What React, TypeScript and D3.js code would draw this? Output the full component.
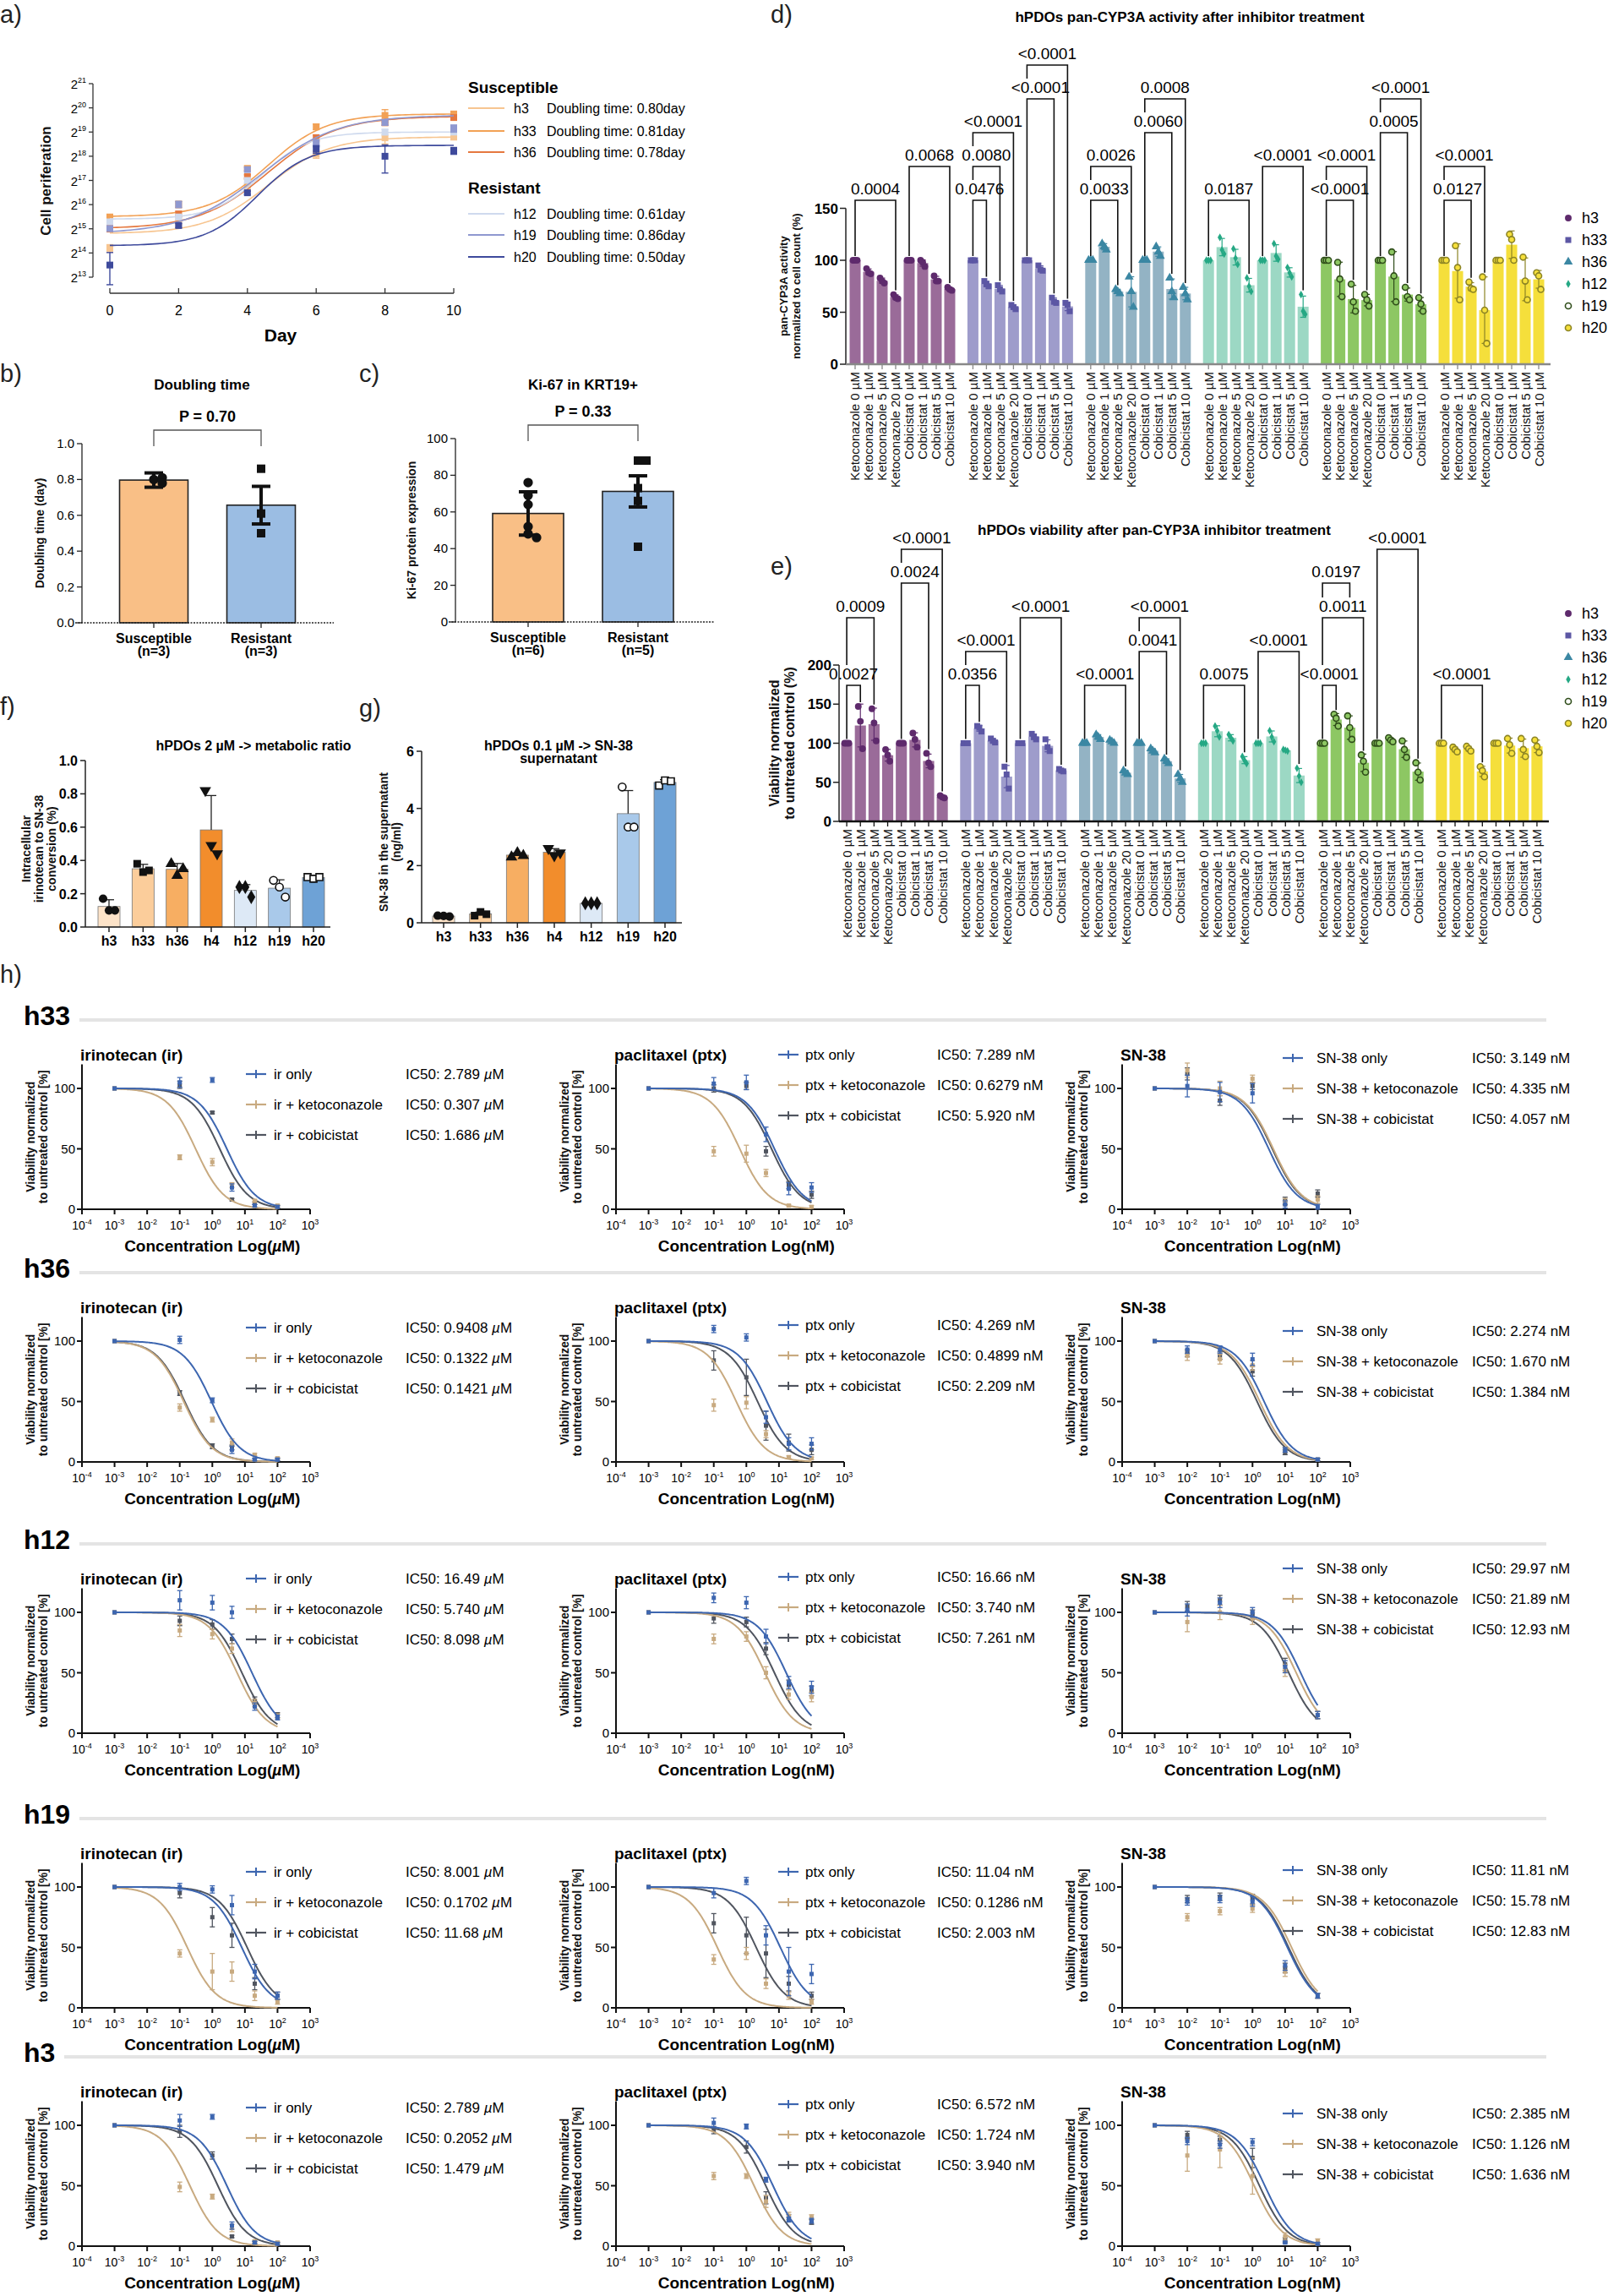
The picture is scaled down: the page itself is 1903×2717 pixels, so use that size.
import React, { useEffect } from "react";
import * as d3 from "d3";

const NARROW = "'Liberation Sans Narrow','Arial Narrow','Liberation Sans',Arial,sans-serif";
const ARIAL = "'Liberation Sans',Arial,Helvetica,sans-serif";

/* ================= DATA ================= */
/* a) growth curves (cells, thousands) */
const growthDays = [0, 2, 4, 6, 8, 10];
const growthLines = ["h3", "h33", "h36", "h12", "h19", "h20"];
const growthDoubling = ["0.80", "0.81", "0.78", "0.61", "0.86", "0.50"];
const growthH3 = [18.8, 39.5, 109, 277, 444, 453];
const growthH33 = [46, 66, 185, 610, 845, 880];
const growthH36 = [33, 50, 146, 444, 691, 794];
const growthH12 = [40, 46, 131, 370, 524, 524];
const growthH19 = [33, 66, 179, 383, 691, 582];
const growthH20 = [11.6, 36, 92, 320, 262, 307];
const growthSdH3 = [2, 4, 10, 30, 70, 20];
const growthSdH33 = [3, 6, 12, 50, 150, 20];
const growthSdH36 = [3, 4, 8, 40, 60, 30];
const growthSdH12 = [2, 3, 8, 20, 40, 30];
const growthSdH19 = [2, 6, 10, 40, 50, 60];
const growthSdH20 = [5, 2, 4, 35, 100, 30];
/* logistic fit in log2(cells): bottom, top, midpoint (day), scale (day) */
const growthFitBottom = [14.8, 15.5, 15.0, 15.4, 14.8, 14.3];
const growthFitTop = [18.8, 19.75, 19.65, 19.0, 19.7, 18.45];
const growthFitMid = [4.6, 4.6, 4.6, 4.4, 4.4, 4.3];
const growthFitScale = [0.9, 0.85, 1.0, 0.7, 1.1, 0.75];

/* b) doubling time */
const dtGroups = ["Susceptible", "Resistant"];
const dtN = ["(n=3)", "(n=3)"];
const dtPoints = [[0.80, 0.81, 0.78], [0.86, 0.61, 0.50]];
const dtErr = [0.04, 0.105];
const dtP = "P = 0.70";

/* c) Ki-67 */
const kiGroups = ["Susceptible", "Resistant"];
const kiN = ["(n=6)", "(n=5)"];
const kiPoints = [[76, 69, 64, 52, 48, 46], [88, 88, 73, 66, 41]];
const kiErr = [11.8, 8.5];
const kiP = "P = 0.33";

/* f, g) */
const fgLines = ["h3", "h33", "h36", "h4", "h12", "h19", "h20"];
const metRatioPts = [[0.17, 0.10, 0.10], [0.38, 0.33, 0.34], [0.38, 0.31, 0.35], [0.82, 0.49, 0.44], [0.24, 0.24, 0.18], [0.28, 0.24, 0.18], [0.30, 0.29, 0.30]];
const sn38SupPts = [[0.25, 0.24, 0.22], [0.25, 0.38, 0.30], [2.3, 2.45, 2.35], [2.6, 2.35, 2.45], [0.68, 0.68, 0.68], [4.75, 3.35, 3.35], [4.8, 4.98, 4.95]];

/* d, e) */
const cypOrganoids = ["h3", "h33", "h36", "h12", "h19", "h20"];
const cypTreatments = ["Ketoconazole 0 µM", "Ketoconazole 1 µM", "Ketoconazole 5 µM", "Ketoconazole 20 µM", "Cobicistat 0 µM", "Cobicistat 1 µM", "Cobicistat 5 µM", "Cobicistat 10 µM"];
const cypH3 = [[100, 100, 100], [92, 88, 87], [83, 80, 78], [67, 64, 63], [100, 100, 100], [100, 98, 94], [85, 80, 80], [74, 72, 71]];
const cypH33 = [[100, 100, 100], [80, 77, 75], [76, 72, 70], [57, 55, 53], [100, 100, 100], [95, 91, 90], [64, 60, 59], [59, 57, 51]];
const cypH36 = [[100, 100, 100], [116, 113, 110], [72, 70, 68], [84, 70, 55], [100, 100, 100], [113, 108, 104], [83, 70, 64], [74, 68, 62]];
const cypH12 = [[100, 100, 100], [122, 110, 106], [111, 102, 96], [83, 75, 70], [100, 100, 100], [116, 104, 101], [93, 88, 84], [67, 51, 48]];
const cypH19 = [[100, 100, 100], [98, 82, 65], [77, 60, 51], [67, 62, 56], [100, 100, 100], [108, 85, 60], [74, 65, 62], [64, 58, 51]];
const cypH20 = [[100, 100, 100], [114, 93, 62], [79, 73, 72], [84, 52, 20], [100, 100, 100], [125, 120, 100], [103, 80, 62], [88, 85, 72]];
/* [organoid, bar A, bar B, p-value, tier] */
const cypBrackets = [
  [0, 0, 3, "0.0004", 0], [0, 4, 7, "0.0068", 1],
  [1, 0, 1, "0.0476", 0], [1, 0, 2, "0.0080", 1], [1, 0, 3, "<0.0001", 2], [1, 4, 6, "<0.0001", 3], [1, 4, 7, "<0.0001", 4],
  [2, 0, 2, "0.0033", 0], [2, 0, 3, "0.0026", 1], [2, 4, 6, "0.0060", 2], [2, 4, 7, "0.0008", 3],
  [3, 0, 3, "0.0187", 0], [3, 4, 7, "<0.0001", 1],
  [4, 0, 2, "<0.0001", 0], [4, 0, 3, "<0.0001", 1], [4, 4, 6, "0.0005", 2], [4, 4, 7, "<0.0001", 3],
  [5, 0, 2, "0.0127", 0], [5, 0, 3, "<0.0001", 1],
];
const viabH3 = [[100, 100, 100], [147, 128, 93], [144, 126, 103], [92, 85, 77], [100, 100, 100], [113, 105, 95], [87, 75, 70], [33, 31, 30]];
const viabH33 = [[100, 100, 100], [122, 120, 115], [106, 103, 101], [70, 60, 42], [100, 100, 100], [112, 108, 105], [105, 95, 90], [67, 65, 64]];
const viabH36 = [[100, 100, 100], [111, 108, 105], [104, 102, 100], [65, 62, 60], [100, 100, 100], [93, 90, 88], [80, 77, 74], [60, 55, 50]];
const viabH12 = [[100, 100, 100], [122, 116, 108], [111, 107, 103], [83, 78, 74], [100, 100, 100], [116, 108, 102], [92, 91, 90], [68, 58, 50]];
const viabH19 = [[100, 100, 100], [137, 132, 122], [135, 120, 105], [85, 77, 63], [100, 100, 100], [107, 104, 102], [103, 92, 82], [75, 63, 53]];
const viabH20 = [[100, 100, 100], [95, 92, 89], [96, 93, 90], [70, 65, 57], [100, 100, 100], [106, 98, 87], [106, 92, 83], [104, 96, 88]];
const viabBrackets = [
  [0, 0, 1, "0.0027", 0], [0, 0, 2, "0.0009", 2], [0, 4, 6, "0.0024", 3], [0, 4, 7, "<0.0001", 4],
  [1, 0, 1, "0.0356", 0], [1, 0, 3, "<0.0001", 1], [1, 4, 7, "<0.0001", 2],
  [2, 0, 3, "<0.0001", 0], [2, 4, 6, "0.0041", 1], [2, 4, 7, "<0.0001", 2],
  [3, 0, 3, "0.0075", 0], [3, 4, 7, "<0.0001", 1],
  [4, 0, 1, "<0.0001", 0], [4, 0, 3, "0.0011", 2], [4, 0, 2, "0.0197", 3], [4, 4, 7, "<0.0001", 4],
  [5, 0, 3, "<0.0001", 0],
];

/* h) dose response */
const doseRows = ["h33", "h36", "h12", "h19", "h3"];
const doseDrugs = ["irinotecan (ir)", "paclitaxel (ptx)", "SN-38"];
const doseShort = ["ir", "ptx", "SN-38"];
const doseUnit = ["µM", "nM", "nM"];
const doseSeries = [" only", " + ketoconazole", " + cobicistat"];
const concIrPtx = [0.001, 0.1, 1, 4, 20, 100];
const concSn38 = [0.001, 0.01, 0.1, 1, 10, 100];
const ic50H33 = [["2.789", "0.307", "1.686"], ["7.289", "0.6279", "5.920"], ["3.149", "4.335", "4.057"]];
const ic50H36 = [["0.9408", "0.1322", "0.1421"], ["4.269", "0.4899", "2.209"], ["2.274", "1.670", "1.384"]];
const ic50H12 = [["16.49", "5.740", "8.098"], ["16.66", "3.740", "7.261"], ["29.97", "21.89", "12.93"]];
const ic50H19 = [["8.001", "0.1702", "11.68"], ["11.04", "0.1286", "2.003"], ["11.81", "15.78", "12.83"]];
const ic50H3 = [["2.789", "0.2052", "1.479"], ["6.572", "1.724", "3.940"], ["2.385", "1.126", "1.636"]];
const viaH33 = [
  [[100, 105, 107, 18, 3, 2], [100, 43, 39, 20, 7, 3], [100, 103, 80, 8, 5, 2]],
  [[100, 104, 105, 62, 17, 18], [100, 48, 46, 30, 3, 2], [100, 100, 102, 48, 20, 12]],
  [[100, 102, 97, 96, 4, 2], [100, 115, 100, 108, 6, 8], [100, 112, 90, 102, 7, 13]],
];
const sdH33 = [
  [[0, 4, 2, 3, 1, 1], [0, 2, 3, 2, 1, 1], [0, 3, 1, 1, 1, 1]],
  [[0, 5, 6, 6, 5, 4], [0, 4, 7, 3, 1, 1], [0, 3, 3, 4, 3, 3]],
  [[0, 9, 8, 8, 3, 2], [0, 6, 6, 3, 3, 3], [0, 5, 4, 3, 3, 3]],
];
const viaH36 = [
  [[100, 101, 51, 10, 2, 2], [100, 45, 35, 16, 6, 3], [100, 57, 13, 12, 2, 2]],
  [[100, 110, 103, 37, 15, 15], [100, 47, 49, 23, 4, 3], [100, 84, 70, 30, 16, 10]],
  [[100, 93, 93, 85, 10, 2], [100, 88, 85, 80, 10, 2], [100, 90, 88, 75, 8, 2]],
];
const sdH36 = [
  [[0, 3, 2, 3, 1, 1], [0, 3, 2, 3, 1, 1], [0, 2, 2, 2, 1, 1]],
  [[0, 3, 3, 5, 5, 5], [0, 5, 5, 3, 1, 1], [0, 8, 15, 12, 7, 4]],
  [[0, 3, 3, 5, 2, 1], [0, 4, 4, 4, 2, 1], [0, 3, 3, 4, 2, 1]],
];
const viaH12 = [
  [[100, 110, 108, 100, 22, 13], [100, 85, 82, 70, 25, 14], [100, 93, 90, 78, 27, 15]],
  [[100, 112, 108, 80, 42, 38], [100, 78, 80, 50, 32, 30], [100, 95, 92, 70, 40, 35]],
  [[100, 102, 108, 100, 55, 15], [100, 92, 100, 95, 52, 15], [100, 105, 110, 98, 57, 15]],
];
const sdH12 = [
  [[0, 8, 6, 5, 3, 2], [0, 5, 4, 4, 3, 2], [0, 4, 4, 4, 3, 2]],
  [[0, 4, 5, 6, 5, 5], [0, 4, 4, 5, 4, 4], [0, 4, 4, 5, 4, 4]],
  [[0, 5, 4, 4, 5, 3], [0, 8, 6, 5, 5, 3], [0, 4, 4, 4, 5, 3]],
];
const viaH19 = [
  [[100, 100, 98, 85, 30, 10], [100, 45, 30, 30, 10, 5], [100, 95, 75, 60, 20, 10]],
  [[100, 95, 105, 60, 30, 28], [100, 40, 45, 20, 10, 5], [100, 70, 60, 45, 20, 10]],
  [[100, 88, 90, 88, 35, 10], [100, 75, 80, 82, 30, 10], [100, 90, 92, 90, 33, 10]],
];
const sdH19 = [
  [[0, 3, 3, 8, 6, 3], [0, 3, 15, 8, 4, 2], [0, 4, 8, 10, 5, 3]],
  [[0, 4, 3, 8, 20, 8], [0, 4, 5, 4, 3, 2], [0, 8, 15, 20, 6, 3]],
  [[0, 3, 3, 4, 4, 2], [0, 3, 3, 3, 4, 2], [0, 3, 3, 4, 4, 2]],
];
const viaH3 = [
  [[100, 104, 107, 17, 3, 2], [100, 49, 41, 15, 4, 3], [100, 95, 75, 8, 3, 2]],
  [[100, 102, 99, 55, 22, 21], [100, 58, 58, 37, 25, 24], [100, 96, 82, 40, 23, 20]],
  [[100, 87, 84, 86, 3, 2], [100, 75, 80, 58, 8, 4], [100, 92, 88, 73, 5, 2]],
];
const sdH3 = [
  [[0, 5, 2, 3, 1, 1], [0, 4, 2, 3, 1, 1], [0, 5, 3, 1, 1, 1]],
  [[0, 4, 2, 2, 2, 2], [0, 3, 2, 5, 3, 2], [0, 3, 5, 5, 3, 2]],
  [[0, 3, 3, 3, 1, 1], [0, 13, 15, 15, 3, 2], [0, 3, 3, 8, 2, 1]],
];
const doseIc50 = [ic50H33, ic50H36, ic50H12, ic50H19, ic50H3];
const doseMeans = [viaH33, viaH36, viaH12, viaH19, viaH3];
const doseSds = [sdH33, sdH36, sdH12, sdH19, sdH3];

/* ================= STYLE / LAYOUT ================= */
const GROWTH_COLORS = ["#f7c590", "#f2a155", "#e5783f", "#cfdaee", "#8f98d0", "#3e4a9c"];
const ORG_BAR = ["#9a6b99", "#9e9ccb", "#93b3c4", "#9cd8c4", "#8dc763", "#f5df3b"];
const ORG_MARK = ["#5e2a6c", "#5c57a4", "#3b87a3", "#25a884", "#2f4d1a", "#8c8424"];
const ORG_SHAPE = ["circle", "square", "triangle", "diamond", "ocircle", "ocircle"];
const FG_BAR = ["#fde3c8", "#fbcd9b", "#f7ae62", "#f28d2c", "#dde9f6", "#a9c9ea", "#6ea2d6"];
const FG_SHAPE = ["circle", "square", "triangle", "tridown", "diamond", "ocircle", "osquare"];
const DOSE_COLORS = ["#3d66b0", "#c8aa80", "#50555f"];
const ROW_LAYOUT = [
  { base: 1213, leg: [58, 35, 39] },
  { base: 1512, leg: [59, 56, 63] },
  { base: 1833, leg: [35, 33, 23] },
  { base: 2158, leg: [57, 57, 55] },
  { base: 2440, leg: [54, 50, 61] },
];
const COL_LAYOUT = [
  { axisX: 97, legX: 291, textX: 324, icX: 480 },
  { axisX: 729, legX: 921, textX: 953, icX: 1109 },
  { axisX: 1328, legX: 1518, textX: 1558, icX: 1742 },
];

/* ================= HELPERS ================= */
function Marker({ shape, x, y, size, color, fill }: any) {
  const area = size * size;
  let type = d3.symbolCircle;
  let rot = 0;
  let hollow = false;
  if (shape === "square" || shape === "osquare") type = d3.symbolSquare;
  if (shape === "triangle") type = d3.symbolTriangle;
  if (shape === "tridown") { type = d3.symbolTriangle; rot = 180; }
  if (shape === "diamond") type = d3.symbolDiamond;
  if (shape === "ocircle" || shape === "osquare") hollow = true;
  const p = d3.symbol().type(type).size(hollow ? area * 0.8 : area)();
  return (
    <path d={p || ""} transform={`translate(${x},${y}) rotate(${rot})`}
      fill={hollow ? (fill || "#fff") : color} stroke={color} strokeWidth={hollow ? 1.6 : 0} />
  );
}

function jitter(vals: number[], tol: number, step: number) {
  const offs: number[] = [];
  vals.forEach((v, i) => {
    let c = 0;
    for (let j = 0; j < i; j++) if (Math.abs(vals[j] - v) < tol) c++;
    offs.push(c === 0 ? 0 : (c % 2 === 1 ? 1 : -1) * Math.ceil(c / 2) * step);
  });
  return offs;
}

function RotText({ x, y, children, size, weight, family, anchor }: any) {
  return (
    <text transform={`translate(${x},${y}) rotate(-90)`} textAnchor={anchor || "middle"}
      fontSize={size} fontWeight={weight || "normal"} fontFamily={family || ARIAL} fill="#111">
      {children}
    </text>
  );
}

function PanelLabel({ x, y, t }: any) {
  return <text x={x} y={y} fontSize={29} fontFamily={NARROW} fill="#222">{t}</text>;
}

/* ================= a) ================= */
function PanelA() {
  const x = d3.scaleLinear().domain([0, 10]).range([130, 537]);
  const y = d3.scaleLog().base(2).domain([2 ** 13 / 1000, 2 ** 21 / 1000]).range([328, 99]);
  const series = [growthH3, growthH33, growthH36, growthH12, growthH19, growthH20];
  const sds = [growthSdH3, growthSdH33, growthSdH36, growthSdH12, growthSdH19, growthSdH20];
  const fitDays = d3.range(0, 10.001, 0.1);
  const fit = (i: number, d: number) =>
    2 ** (growthFitBottom[i] + (growthFitTop[i] - growthFitBottom[i]) / (1 + Math.exp(-(d - growthFitMid[i]) / growthFitScale[i]))) / 1000;
  const legendY = [128, 155, 180, 253, 278, 304];
  return (
    <g>
      <PanelLabel x={0} y={27} t="a)" />
      <line x1={110} x2={110} y1={y(2 ** 21 / 1000)} y2={y(2 ** 13 / 1000)} stroke="#333" strokeWidth={1.3} />
      {d3.range(13, 22).map((k) => (
        <g key={k}>
          <line x1={105} x2={110} y1={y(2 ** k / 1000)} y2={y(2 ** k / 1000)} stroke="#333" strokeWidth={1.3} />
          <text x={102} y={y(2 ** k / 1000) + 6} textAnchor="end" fontSize={15} fontFamily={NARROW}>
            2<tspan dy={-7} fontSize={9}>{k}</tspan>
          </text>
        </g>
      ))}
      <line x1={x(0)} x2={x(10)} y1={347} y2={347} stroke="#333" strokeWidth={1.3} />
      {growthDays.map((d) => (
        <g key={d}>
          <line x1={x(d)} x2={x(d)} y1={341} y2={347} stroke="#333" strokeWidth={1.3} />
          <text x={x(d)} y={373} textAnchor="middle" fontSize={16} fontFamily={NARROW}>{d}</text>
        </g>
      ))}
      <text x={332} y={404} textAnchor="middle" fontSize={21} fontFamily={NARROW} fontWeight="bold">Day</text>
      <RotText x={60} y={214} size={17} weight="bold">Cell periferation</RotText>
      {series.map((s, i) => {
        const line = d3.line<number>().x((d) => x(d)).y((d) => y(fit(i, d)));
        return (
          <g key={i}>
            <path d={line(fitDays) || ""} fill="none" stroke={GROWTH_COLORS[i]} strokeWidth={1.6} />
            {s.map((v, j) => {
              const lo = Math.max(v - sds[i][j], 1);
              const hi = v + sds[i][j];
              const xx = x(growthDays[j]);
              return (
                <g key={j} stroke={GROWTH_COLORS[i]} strokeWidth={1.4}>
                  <line x1={xx} x2={xx} y1={y(lo)} y2={y(hi)} />
                  <line x1={xx - 4} x2={xx + 4} y1={y(lo)} y2={y(lo)} />
                  <line x1={xx - 4} x2={xx + 4} y1={y(hi)} y2={y(hi)} />
                  <rect x={xx - 4} y={y(v) - 4} width={8} height={8} fill={GROWTH_COLORS[i]} stroke="none" />
                </g>
              );
            })}
          </g>
        );
      })}
      <text x={554} y={110} fontSize={19} fontWeight="bold" fontFamily={NARROW}>Susceptible</text>
      <text x={554} y={229} fontSize={19} fontWeight="bold" fontFamily={NARROW}>Resistant</text>
      {growthLines.map((h, i) => (
        <g key={h}>
          <line x1={554} x2={597} y1={legendY[i]} y2={legendY[i]} stroke={GROWTH_COLORS[i]} strokeWidth={2} />
          <text x={608} y={legendY[i] + 6} fontSize={16} fontFamily={NARROW}>{h}</text>
          <text x={647} y={legendY[i] + 6} fontSize={16} fontFamily={NARROW}>Doubling time: {growthDoubling[i]}day</text>
        </g>
      ))}
    </g>
  );
}

/* ================= b) c) ================= */
function TwoBar({ label, lx, title, titleX, groups, ns, pts, err, p, domainMax, ticks, tickFmt, y0, yTop, axisX, axisEnd, centers, barW, yLabel, yLabelX, bracketY, legY, fills, shapes }: any) {
  const y = d3.scaleLinear().domain([0, domainMax]).range([y0, yTop]);
  const xc = d3.scalePoint().domain(groups).range(centers);
  return (
    <g>
      <PanelLabel x={lx} y={452} t={label} />
      <text x={titleX} y={461} textAnchor="middle" fontSize={17} fontWeight="bold" fontFamily={NARROW}>{title}</text>
      <line x1={axisX} x2={axisX} y1={y0} y2={yTop} stroke="#222" strokeWidth={1.3} />
      {ticks.map((t: number) => (
        <g key={t}>
          <line x1={axisX - 6} x2={axisX} y1={y(t)} y2={y(t)} stroke="#222" strokeWidth={1.3} />
          <text x={axisX - 9} y={y(t) + 5} textAnchor="end" fontSize={15} fontFamily={NARROW}>{tickFmt(t)}</text>
        </g>
      ))}
      <RotText x={yLabelX} y={(y0 + yTop) / 2} size={14} weight="bold">{yLabel}</RotText>
      {groups.map((g: string, i: number) => {
        const cx = xc(g) as number;
        const m = d3.mean(pts[i]) as number;
        const offs = jitter(pts[i], domainMax * 0.03, 10);
        return (
          <g key={g}>
            <rect x={cx - barW / 2} y={y(m)} width={barW} height={y0 - y(m)} fill={fills[i]} stroke="#222" strokeWidth={1.6} />
            <line x1={cx} x2={cx} y1={y(m - err[i])} y2={y(m + err[i])} stroke="#111" strokeWidth={4} />
            <line x1={cx - 11} x2={cx + 11} y1={y(m - err[i])} y2={y(m - err[i])} stroke="#111" strokeWidth={4} />
            <line x1={cx - 11} x2={cx + 11} y1={y(m + err[i])} y2={y(m + err[i])} stroke="#111" strokeWidth={4} />
            {pts[i].map((v: number, j: number) => (
              <Marker key={j} shape={shapes[i]} x={cx + offs[j]} y={y(v)} size={10} color="#111" />
            ))}
            <line x1={cx} x2={cx} y1={y0} y2={y0 + 6} stroke="#222" strokeWidth={1.3} />
            <text x={cx} y={y0 + 24} textAnchor="middle" fontSize={16} fontWeight="bold" fontFamily={NARROW}>{g}</text>
            <text x={cx} y={y0 + 39} textAnchor="middle" fontSize={16} fontWeight="bold" fontFamily={NARROW}>{ns[i]}</text>
          </g>
        );
      })}
      <line x1={axisX - 8} x2={axisEnd} y1={y0} y2={y0} stroke="#222" strokeWidth={1.6} strokeDasharray="2,1.5" />
      <path d={`M${centers[0]},${bracketY + 19}V${bracketY}H${centers[1]}V${bracketY + 19}`} fill="none" stroke="#555" strokeWidth={1.3} />
      <text x={(centers[0] + centers[1]) / 2} y={legY} textAnchor="middle" fontSize={18} fontWeight="bold" fontFamily={NARROW}>{p}</text>
    </g>
  );
}

/* ================= f) g) ================= */
function SmallBars({ label, lx, ly, titleLines, titleX, pts, domainMax, ticks, tickFmt, y0, yTop, axisX, range, yLabelLines, yLabelX }: any) {
  const y = d3.scaleLinear().domain([0, domainMax]).range([y0, yTop]);
  const xc = d3.scalePoint().domain(fgLines).range(range);
  const barW = 26;
  return (
    <g>
      <PanelLabel x={lx} y={ly} t={label} />
      {titleLines.map((t: string, i: number) => (
        <text key={i} x={titleX} y={888 + i * 15} textAnchor="middle" fontSize={16} fontWeight="bold" fontFamily={NARROW}>{t}</text>
      ))}
      <line x1={axisX} x2={axisX} y1={y0} y2={yTop} stroke="#222" strokeWidth={1.5} />
      {ticks.map((t: number) => (
        <g key={t}>
          <line x1={axisX - 6} x2={axisX} y1={y(t)} y2={y(t)} stroke="#222" strokeWidth={1.5} />
          <text x={axisX - 9} y={y(t) + 6} textAnchor="end" fontSize={16} fontFamily={NARROW} fontWeight="bold">{tickFmt(t)}</text>
        </g>
      ))}
      {yLabelLines.map((t: string, i: number) => (
        <RotText key={i} x={yLabelX + i * 15} y={(y0 + yTop) / 2 + 6} size={14} weight="bold">{t}</RotText>
      ))}
      {fgLines.map((g: string, i: number) => {
        const cx = xc(g) as number;
        const m = d3.mean(pts[i]) as number;
        const sd = d3.deviation(pts[i]) as number;
        const offs = [-7, 0, 7];
        return (
          <g key={g}>
            <rect x={cx - barW / 2} y={y(m)} width={barW} height={y0 - y(m)} fill={FG_BAR[i]} stroke="#777" strokeWidth={0.8} />
            <line x1={cx} x2={cx} y1={y(m)} y2={y(m + sd)} stroke="#222" strokeWidth={1.3} />
            <line x1={cx - 6} x2={cx + 6} y1={y(m + sd)} y2={y(m + sd)} stroke="#222" strokeWidth={1.3} />
            {pts[i].map((v: number, j: number) => (
              <Marker key={j} shape={FG_SHAPE[i]} x={cx + offs[j]} y={y(v)} size={9} color="#111" />
            ))}
            <line x1={cx} x2={cx} y1={y0} y2={y0 + 6} stroke="#222" strokeWidth={1.5} />
            <text x={cx} y={y0 + 22} textAnchor="middle" fontSize={16} fontFamily={NARROW} fontWeight="bold">{g}</text>
          </g>
        );
      })}
      <line x1={axisX} x2={range[1] + 20} y1={y0} y2={y0} stroke="#222" strokeWidth={1.5} />
    </g>
  );
}

/* ================= d) e) ================= */
function GroupedBars({ data, brackets, y0, yTop, vMax, ticks, groupRange, tierY, axisX, title, titleX, titleY, yLabelLines, yLabelX, yLabelSize, legendY0, axisColor, label, labelY, pSize }: any) {
  const y = d3.scaleLinear().domain([0, vMax]).range([y0, yTop]);
  const gx = d3.scaleBand<number>().domain(d3.range(6)).range(groupRange).paddingInner(0.082);
  const bx = d3.scaleBand<number>().domain(d3.range(8)).range([0, gx.bandwidth()]).paddingInner(0.1875).paddingOuter(0.09375);
  const cx = (g: number, b: number) => (gx(g) as number) + (bx(b) as number) + bx.bandwidth() / 2;
  const bw = bx.bandwidth();
  const maxAt = (g: number, b: number) => d3.max(data[g][b] as number[]) as number;
  return (
    <g>
      <PanelLabel x={912} y={labelY} t={label} />
      <text x={titleX} y={titleY} textAnchor="middle" fontSize={17} fontWeight="bold" fontFamily={NARROW}>{title}</text>
      <line x1={axisX} x2={axisX} y1={y0} y2={yTop} stroke="#222" strokeWidth={1.5} />
      {ticks.map((t: number) => (
        <g key={t}>
          <line x1={axisX - 7} x2={axisX} y1={y(t)} y2={y(t)} stroke="#222" strokeWidth={1.5} />
          <text x={axisX - 9} y={y(t) + 6} textAnchor="end" fontSize={17} fontWeight="bold" fontFamily={NARROW}>{t}</text>
        </g>
      ))}
      {yLabelLines.map((t: string, i: number) => (
        <RotText key={i} x={yLabelX + i * (yLabelSize + 2)} y={(y0 + yTop) / 2} size={yLabelSize} weight="bold">{t}</RotText>
      ))}
      {data.map((grp: number[][], g: number) => (
        <g key={g}>
          {grp.map((pts: number[], b: number) => {
            const m = d3.mean(pts) as number;
            const sd = d3.deviation(pts) as number;
            const x = cx(g, b);
            return (
              <g key={b}>
                <rect x={x - bw / 2} y={y(m)} width={bw} height={y0 - y(m)} fill={ORG_BAR[g]} />
                {sd > 0.5 && (
                  <g stroke={ORG_MARK[g]} strokeWidth={1.2}>
                    <line x1={x} x2={x} y1={y(m - sd)} y2={y(m + sd)} />
                    <line x1={x - 3.5} x2={x + 3.5} y1={y(m - sd)} y2={y(m - sd)} />
                    <line x1={x - 3.5} x2={x + 3.5} y1={y(m + sd)} y2={y(m + sd)} />
                  </g>
                )}
                {pts.map((v: number, j: number) => (
                  <Marker key={j} shape={ORG_SHAPE[g]} x={x + (j - 1) * 2.5} y={y(v)} size={ORG_SHAPE[g] === "diamond" ? 5 : 7} color={ORG_MARK[g]} fill={ORG_BAR[g]} />
                ))}
                <line x1={x} x2={x} y1={y0} y2={y0 + 6} stroke={axisColor} strokeWidth={1.3} />
                <text transform={`translate(${x + 5.5},${y0 + 9}) rotate(-90)`} textAnchor="end" fontSize={15} fontFamily={ARIAL} fill="#111">
                  {cypTreatments[b]}
                </text>
              </g>
            );
          })}
        </g>
      ))}
      <line x1={axisX} x2={groupRange[1] + 6} y1={y0} y2={y0} stroke={axisColor} strokeWidth={2.5} />
      {brackets.map((br: any[], k: number) => {
        const [g, a, b, p, tier] = br;
        const by = tierY[tier];
        const xa = cx(g, a);
        const xb = cx(g, b);
        const legEnd = (xLeg: number, bar: number) => {
          const lower = brackets.filter((o: any[]) => o[0] === g && o[4] < tier && cx(g, o[1]) <= xLeg + 0.1 && cx(g, o[2]) >= xLeg - 0.1);
          if (lower.length) {
            const nearest = lower.reduce((acc: any, o: any) => (o[4] > acc[4] ? o : acc));
            return tierY[nearest[4]] - 24;
          }
          return y(maxAt(g, bar)) - 5;
        };
        return (
          <g key={k}>
            <path d={`M${xa},${legEnd(xa, a)}V${by}H${xb}V${legEnd(xb, b)}`} fill="none" stroke="#111" strokeWidth={1.6} />
            <text x={(xa + xb) / 2} y={by - 7} textAnchor="middle" fontSize={pSize} fontFamily={NARROW}>{p}</text>
          </g>
        );
      })}
      {cypOrganoids.map((h, i) => (
        <g key={h}>
          <Marker shape={ORG_SHAPE[i]} x={1856} y={legendY0 + i * 26} size={ORG_SHAPE[i] === "diamond" ? 5 : 7} color={ORG_MARK[i]} fill={i === 4 ? "#fff" : ORG_BAR[i]} />
          <text x={1872} y={legendY0 + i * 26 + 6} fontSize={18} fontFamily={NARROW}>{h}</text>
        </g>
      ))}
    </g>
  );
}

/* ================= h) ================= */
function Dec({ x, y, e }: any) {
  return (
    <text x={x} y={y} textAnchor="middle" fontSize={14} fontFamily={NARROW}>
      10<tspan dy={-6} fontSize={9}>{e}</tspan>
    </text>
  );
}

function Unit({ u }: any) {
  return u === "µM" ? <><tspan fontStyle="italic">µ</tspan>M</> : <>{u}</>;
}

function DosePlot({ r, c }: any) {
  const { base, leg } = ROW_LAYOUT[r];
  const col = COL_LAYOUT[c];
  const x = d3.scaleLog().domain([1e-4, 1e3]).range([col.axisX, col.axisX + 270]);
  const y = d3.scaleLinear().domain([0, 100]).range([base + 218, base + 75]);
  const conc = c === 2 ? concSn38 : concIrPtx;
  const means = doseMeans[r][c];
  const sds = doseSds[r][c];
  const ics = doseIc50[r][c];
  const samples = d3.range(0, 151).map((i) => Math.pow(10, -3 + (5 * i) / 150));
  const order = [2, 1, 0];
  const unit = doseUnit[c];
  return (
    <g>
      <text x={col.axisX - 2} y={base + 42} fontSize={19} fontWeight="bold" fontFamily={NARROW}>{doseDrugs[c]}</text>
      <line x1={col.axisX} x2={col.axisX} y1={y(0)} y2={y(120)} stroke="#111" strokeWidth={2} />
      {[0, 50, 100].map((t) => (
        <g key={t}>
          <line x1={col.axisX - 6} x2={col.axisX} y1={y(t)} y2={y(t)} stroke="#111" strokeWidth={2} />
          <text x={col.axisX - 8} y={y(t) + 5} textAnchor="end" fontSize={15} fontFamily={NARROW}>{t}</text>
        </g>
      ))}
      <line x1={col.axisX} x2={col.axisX + 270} y1={y(0)} y2={y(0)} stroke="#111" strokeWidth={2} />
      {d3.range(-4, 4).map((e) => (
        <g key={e}>
          <line x1={x(10 ** e)} x2={x(10 ** e)} y1={y(0)} y2={y(0) + 6} stroke="#111" strokeWidth={2} />
          <Dec x={x(10 ** e)} y={y(0) + 24} e={e} />
        </g>
      ))}
      <text x={x(1)} y={y(0) + 50} textAnchor="middle" fontSize={19} fontWeight="bold" fontFamily={NARROW}>
        Concentration Log(<Unit u={unit} />)
      </text>
      <RotText x={col.axisX - 56} y={(y(0) + y(120)) / 2} size={14} weight="bold">Viability normalized</RotText>
      <RotText x={col.axisX - 41} y={(y(0) + y(120)) / 2} size={14} weight="bold">to untreated control [%]</RotText>
      {order.map((s) => {
        const ic = parseFloat(ics[s]);
        const path = d3.line<number>().x((d) => x(d)).y((d) => y(100 / (1 + d / ic)))(samples);
        return (
          <g key={s}>
            <path d={path || ""} fill="none" stroke={DOSE_COLORS[s]} strokeWidth={2} />
            {means[s].map((v: number, j: number) => {
              const xx = x(conc[j]);
              const sd = sds[s][j];
              return (
                <g key={j} stroke={DOSE_COLORS[s]} strokeWidth={1.3}>
                  {sd > 0 && <line x1={xx} x2={xx} y1={y(v - sd)} y2={y(v + sd)} />}
                  {sd > 0 && <line x1={xx - 3} x2={xx + 3} y1={y(v - sd)} y2={y(v - sd)} />}
                  {sd > 0 && <line x1={xx - 3} x2={xx + 3} y1={y(v + sd)} y2={y(v + sd)} />}
                  <rect x={xx - 2.5} y={y(v) - 2.5} width={5} height={5} fill={DOSE_COLORS[s]} stroke="none" />
                </g>
              );
            })}
          </g>
        );
      })}
      {[0, 1, 2].map((s) => {
        const ly = base + leg[c] + s * 36;
        return (
          <g key={s}>
            <line x1={col.legX} x2={col.legX + 24} y1={ly} y2={ly} stroke={DOSE_COLORS[s]} strokeWidth={2.2} />
            <line x1={col.legX + 12} x2={col.legX + 12} y1={ly - 5} y2={ly + 5} stroke={DOSE_COLORS[s]} strokeWidth={2} />
            <text x={col.textX} y={ly + 6} fontSize={17} fontFamily={NARROW}>{doseShort[c] + doseSeries[s]}</text>
            <text x={col.icX} y={ly + 6} fontSize={17} fontFamily={NARROW}>
              IC50:  {ics[s]} <Unit u={unit} />
            </text>
          </g>
        );
      })}
    </g>
  );
}

function PanelH() {
  return (
    <g>
      <PanelLabel x={0} y={1163} t="h)" />
      {doseRows.map((h, r) => {
        const base = ROW_LAYOUT[r].base;
        return (
          <g key={h}>
            <text x={28} y={base} fontSize={32} fontWeight="bold" fontFamily={NARROW}>{h}</text>
            <line x1={28 + h.length * 18 + 12} x2={1830} y1={base - 6} y2={base - 6} stroke="#e4e4e4" strokeWidth={4} />
            {[0, 1, 2].map((c) => <DosePlot key={c} r={r} c={c} />)}
          </g>
        );
      })}
    </g>
  );
}

/* ================= APP ================= */
export default function App() {
  useEffect(() => {
    document.body.style.margin = "0";
  }, []);
  const cypData = [cypH3, cypH33, cypH36, cypH12, cypH19, cypH20];
  const viabData = [viabH3, viabH33, viabH36, viabH12, viabH19, viabH20];
  return (
    <svg width={1903} height={2717} viewBox="0 0 1903 2717" style={{ display: "block", background: "#fff" }} fontFamily={ARIAL}>
      <rect x={0} y={0} width={1903} height={2717} fill="#fff" />
      <PanelA />
      <TwoBar label="b)" lx={0} title="Doubling time" titleX={239} groups={dtGroups} ns={dtN} pts={dtPoints} err={dtErr} p={dtP}
        domainMax={1} ticks={[0, 0.2, 0.4, 0.6, 0.8, 1.0]} tickFmt={(t: number) => t.toFixed(1)} y0={737} yTop={525} axisX={97} axisEnd={395}
        centers={[182, 309]} barW={81} yLabel="Doubling time (day)" yLabelX={52} bracketY={509} legY={499}
        fills={["#f9bf86", "#9bbde3"]} shapes={["circle", "square"]} />
      <TwoBar label="c)" lx={425} title="Ki-67 in KRT19+" titleX={690} groups={kiGroups} ns={kiN} pts={kiPoints} err={kiErr} p={kiP}
        domainMax={100} ticks={[0, 20, 40, 60, 80, 100]} tickFmt={(t: number) => String(t)} y0={736} yTop={519} axisX={539} axisEnd={845}
        centers={[625, 755]} barW={84} yLabel="Ki-67 protein expression" yLabelX={492} bracketY={503} legY={493}
        fills={["#f9bf86", "#9bbde3"]} shapes={["circle", "square"]} />
      <GroupedBars data={cypData} brackets={cypBrackets} y0={431} yTop={246.5} vMax={150} ticks={[0, 50, 100, 150]}
        groupRange={[1004, 1829]} tierY={[237, 197, 157, 117, 77]} axisX={1001} title="hPDOs pan-CYP3A activity after inhibitor treatment"
        titleX={1408} titleY={26} yLabelLines={["pan-CYP3A activity", "normalized to cell count (%)"]} yLabelX={932} yLabelSize={13}
        legendY0={258} axisColor="#888" label="d)" labelY={27} pSize={19} />
      <GroupedBars data={viabData} brackets={viabBrackets} y0={972} yTop={787} vMax={200} ticks={[0, 50, 100, 150, 200]}
        groupRange={[994, 1827]} tierY={[811, 771, 731, 690, 650]} axisX={993} title="hPDOs viability after pan-CYP3A inhibitor treatment"
        titleX={1366} titleY={633} yLabelLines={["Viability normalized", "to untreated control (%)"]} yLabelX={922} yLabelSize={16}
        legendY0={726} axisColor="#111" label="e)" labelY={680} pSize={19} />
      <SmallBars label="f)" lx={0} ly={846} titleLines={["hPDOs 2 µM -> metabolic ratio"]} titleX={300} pts={metRatioPts}
        domainMax={1} ticks={[0, 0.2, 0.4, 0.6, 0.8, 1.0]} tickFmt={(t: number) => t.toFixed(1)} y0={1097} yTop={900} axisX={101}
        range={[129, 371]} yLabelLines={["Intracellular", "irinotecan to SN-38", "conversion (%)"]} yLabelX={36} />
      <SmallBars label="g)" lx={425} ly={848} titleLines={["hPDOs 0.1 µM -> SN-38", "supernatant"]} titleX={661} pts={sn38SupPts}
        domainMax={6} ticks={[0, 2, 4, 6]} tickFmt={(t: number) => String(t)} y0={1092} yTop={889} axisX={499}
        range={[525, 787]} yLabelLines={["SN-38 in the supernatant", "(ng/ml)"]} yLabelX={459} />
      <PanelH />
    </svg>
  );
}
